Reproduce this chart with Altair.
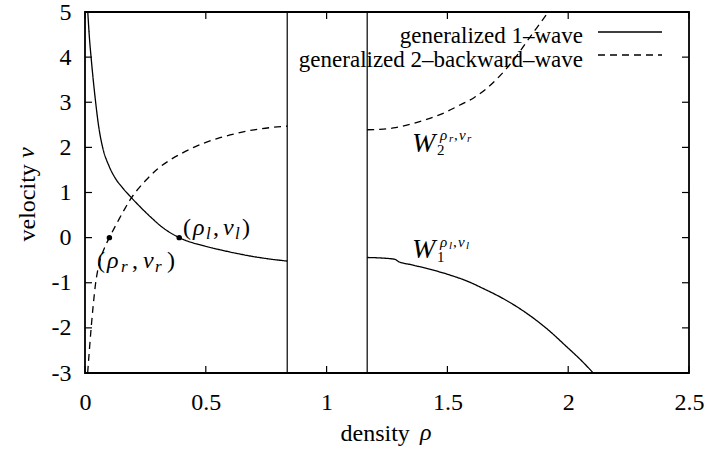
import altair as alt
import pandas as pd

# plot area size in pixels
W, H = 604, 361
SERIF = "'Liberation Serif', 'Times New Roman', serif"

# generalized 1-wave through (rho_l, v_l): left and right of the gap
w1a_rho = [0.0115, 0.018, 0.026, 0.034, 0.043, 0.057, 0.073, 0.1, 0.125, 0.153,
           0.186, 0.225, 0.269, 0.32, 0.39, 0.49, 0.559, 0.628, 0.697, 0.766, 0.837]
w1a_v = [5.0, 4.45, 3.95, 3.5, 3.05, 2.45, 2.0, 1.58, 1.32, 1.12,
         0.92, 0.7, 0.47, 0.23, 0.0, -0.18, -0.27, -0.35, -0.42, -0.475, -0.52]
w1b_rho = [1.168, 1.22, 1.283, 1.297, 1.35, 1.42, 1.511, 1.58, 1.649, 1.72,
           1.787, 1.86, 1.925, 1.99, 2.05, 2.104]
w1b_v = [-0.44, -0.45, -0.48, -0.53, -0.6, -0.69, -0.83, -0.96, -1.13, -1.32,
         -1.53, -1.8, -2.08, -2.4, -2.7, -3.0]

# generalized 2-backward-wave through (rho_r, v_r): left and right of the gap
w2a_rho = [0.011, 0.018, 0.026, 0.034, 0.043, 0.052, 0.062, 0.075, 0.088, 0.101,
           0.12, 0.14, 0.167, 0.187, 0.22, 0.25, 0.3, 0.352, 0.401, 0.45,
           0.49, 0.55, 0.628, 0.7, 0.77, 0.837]
w2a_v = [-3.0, -2.5, -1.97, -1.5, -1.05, -0.74, -0.5, -0.3, -0.14, 0.0,
         0.2, 0.4, 0.66, 0.84, 1.08, 1.26, 1.52, 1.72, 1.87, 2.0,
         2.09, 2.2, 2.31, 2.39, 2.44, 2.47]
w2b_rho = [1.168, 1.22, 1.276, 1.35, 1.414, 1.48, 1.552, 1.61, 1.663, 1.745,
           1.79, 1.828, 1.87, 1.918]
w2b_v = [2.39, 2.4, 2.43, 2.52, 2.62, 2.75, 2.94, 3.1, 3.31, 3.75,
         4.05, 4.34, 4.65, 5.0]

# edges of the excluded density band
gap_rho = [0.837, 1.168]

# the two states
state_rho = [0.39, 0.101]
state_v = [0.0, 0.0]

x_ticks = [0, 0.5, 1, 1.5, 2, 2.5]
y_ticks = [-3, -2, -1, 0, 1, 2, 3, 4, 5]
legend_labels = ["generalized 1–wave", "generalized 2–backward–wave"]

rows = []
for seg, wave, rs, vs in [("w1a", "w1", w1a_rho, w1a_v), ("w1b", "w1", w1b_rho, w1b_v),
                          ("w2a", "w2", w2a_rho, w2a_v), ("w2b", "w2", w2b_rho, w2b_v)]:
    for i, (r, v) in enumerate(zip(rs, vs)):
        rows.append({"seg": seg, "wave": wave, "rho": r, "v": v, "i": i})
curves = pd.DataFrame(rows)

x_scale = alt.Scale(domain=[0, 2.5], nice=False, zero=False)
y_scale = alt.Scale(domain=[-3, 5], nice=False, zero=False)

# axis titles: the upright word comes from the axis, the italic symbol is added below
x_axis = alt.Axis(values=x_ticks, title="density", grid=False, domain=False, ticks=False,
                  labelPadding=17, labelFont=SERIF, labelFontSize=24, labelColor="black",
                  labelExpr="'' + datum.value", labelFlush=False, labelOverlap=False,
                  titleFont=SERIF, titleFontSize=24, titleFontWeight="normal",
                  titleColor="black", titleX=255, titleY=67, titleAlign="left",
                  titleBaseline="alphabetic")
y_axis = alt.Axis(values=y_ticks, title="velocity", grid=False, domain=False, ticks=False,
                  labelPadding=14, labelFont=SERIF, labelFontSize=24, labelColor="black",
                  labelExpr="'' + datum.value", labelFlush=False, labelOverlap=False,
                  labelBaseline="middle", labelAlign="right",
                  titleFont=SERIF, titleFontSize=24, titleFontWeight="normal",
                  titleColor="black", titleX=-51, titleY=229, titleAlign="left",
                  titleBaseline="alphabetic")

X = alt.X("rho:Q", scale=x_scale, axis=x_axis)
Y = alt.Y("v:Q", scale=y_scale, axis=y_axis)

lines = alt.Chart(curves).mark_line(color="black", strokeWidth=1.3, clip=True,
                                    interpolate="monotone").encode(
    x=X, y=Y, detail="seg:N", order="i:Q",
    strokeDash=alt.StrokeDash("wave:N", scale=alt.Scale(domain=["w1", "w2"],
                                                       range=[[1, 0], [7, 5]]), legend=None),
)

gap = alt.Chart(pd.DataFrame({"rho": gap_rho})).mark_rule(color="black", strokeWidth=1.2).encode(x=X)

dots = alt.Chart(pd.DataFrame({"rho": state_rho, "v": state_v})).mark_circle(
    color="black", size=30, opacity=1).encode(x=X, y=Y)

# inward tick marks on all four sides
xt = pd.DataFrame({"rho": x_ticks})
yt = pd.DataFrame({"v": y_ticks})
tick_style = dict(color="black", strokeWidth=1.2)
ticks = [
    alt.Chart(xt).mark_rule(**tick_style).encode(x=X, y=alt.value(H), y2=alt.value(H - 7)),
    alt.Chart(xt).mark_rule(**tick_style).encode(x=X, y=alt.value(0), y2=alt.value(7)),
    alt.Chart(yt).mark_rule(**tick_style).encode(y=Y, x=alt.value(0), x2=alt.value(7)),
    alt.Chart(yt).mark_rule(**tick_style).encode(y=Y, x=alt.value(W), x2=alt.value(W - 7)),
]

# italic symbols that finish the axis titles
title_syms = [
    alt.Chart(pd.DataFrame({"t": ["ρ"]})).mark_text(
        font=SERIF, fontSize=24, fontStyle="italic", align="left", baseline="alphabetic",
        color="black").encode(text="t:N", x=alt.value(335), y=alt.value(H + 67)),
    alt.Chart(pd.DataFrame({"t": ["v"]})).mark_text(
        font=SERIF, fontSize=24, fontStyle="italic", align="left", baseline="alphabetic",
        angle=270, color="black").encode(text="t:N", x=alt.value(-51), y=alt.value(146)),
]

# key in the upper right corner
key = []
for k, (label, dash) in enumerate(zip(legend_labels, [[1, 0], [7, 5]])):
    key.append(alt.Chart(pd.DataFrame({"t": [label]})).mark_text(
        font=SERIF, fontSize=23, align="right", baseline="alphabetic", color="black"
    ).encode(text="t:N", x=alt.value(498), y=alt.value(31 + 24 * k)))
    key.append(alt.Chart(pd.DataFrame({"t": [label]})).mark_rule(
        color="black", strokeWidth=1.3, strokeDash=dash
    ).encode(x=alt.value(513), x2=alt.value(577), y=alt.value(20 + 23 * k)))

# annotation pieces: (dx, dy, text, size, italic) relative to a data-space anchor
annotations = []
def label(rho, v, pieces):
    for dx, dy, txt, size, ital in pieces:
        annotations.append(alt.Chart(pd.DataFrame({"rho": [rho], "v": [v], "t": [txt]})).mark_text(
            font=SERIF, fontSize=size, fontStyle="italic" if ital else "normal",
            align="left", baseline="alphabetic", dx=dx, dy=dy, color="black"
        ).encode(x=X, y=Y, text="t:N"))

label(0.4056, 0.058, [(0, 0, "(", 24, False), (10, 0, "ρ", 24, True), (23, 4, "l", 17, True),
                      (30, 0, ",", 24, False), (40, 0, "v", 24, True), (52, 4, "l", 17, True),
                      (59, 0, ")", 24, False)])
label(0.0497, -0.673, [(0, 0, "(", 24, False), (10, 0, "ρ", 24, True), (24, 4, "r", 17, True),
                       (35, 0, ",", 24, False), (46, 0, "v", 24, True), (58, 4, "r", 17, True),
                       (70, 0, ")", 24, False)])
label(1.3535, 1.897, [(0, 0, "W", 28, True), (25, 3, "2", 15, False),
                      (28, -12, "ρ", 15, True), (37, -10, "r", 11, True), (42, -12, ",", 15, False),
                      (47, -12, "v", 15, True), (55, -10, "r", 11, True)])
label(1.3535, -0.4515, [(0, 0, "W", 28, True), (25, 4, "1", 15, False),
                        (28, -11, "ρ", 15, True), (37, -9, "l", 11, True), (41, -11, ",", 15, False),
                        (46, -11, "v", 15, True), (54, -9, "l", 11, True)])

chart = alt.layer(lines, gap, dots, *ticks, *title_syms, *key, *annotations).properties(
    width=W, height=H,
    autosize=alt.AutoSizeParams(type="none"),
    padding={"left": 85, "top": 12, "right": 18, "bottom": 79},
    background="white",
).configure_view(stroke="black", strokeWidth=1.8)

chart.save("out.html", embed_options={"renderer": "svg", "actions": False})
